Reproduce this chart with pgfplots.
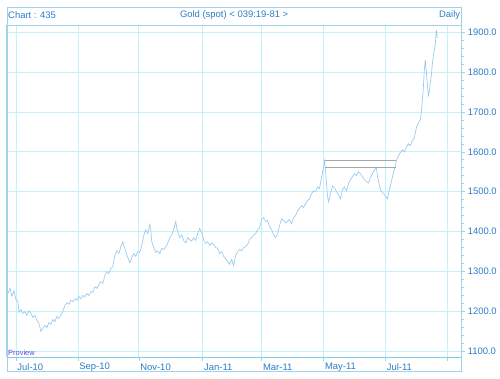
\documentclass[border=0pt]{standalone}
\usepackage{pgfplots}
\pgfplotsset{compat=1.18}
\usepackage{fontspec}
\setmainfont{Liberation Sans}
\definecolor{txtc}{RGB}{45,125,200}
\definecolor{framec}{RGB}{160,210,235}
\definecolor{gridc}{RGB}{195,243,250}
\definecolor{linec}{RGB}{150,200,238}
\definecolor{axc}{RGB}{130,205,230}
\definecolor{provc}{RGB}{90,70,230}
\begin{document}
\begin{tikzpicture}
\path (0,0) rectangle (500bp,379bp);
\begin{axis}[
  at={(7bp,21bp)}, anchor=south west, scale only axis,
  width=455bp, height=333bp,
  xmin=7, xmax=462, ymin=1085, ymax=1917.5,
  xtick={16,78,139,203,262,324,386,448},
  xticklabels={Jul-10,Sep-10,Nov-10,Jan-11,Mar-11,May-11,Jul-11,{}},
  ytick={1100,1200,...,1900},
  minor y tick num=4,
  grid=major,
  major grid style={draw=gridc, line width=0.6pt},
  axis line style={draw=framec, line width=0.6pt},
  ytick pos=right, yticklabel pos=right,
  xtick pos=bottom,
  tick align=outside,
  major tick length=4bp, minor tick length=2.5bp,
  tick style={draw=framec, line width=0.5pt},
  ticklabel style={font=\fontsize{9.5}{11}\selectfont, text=txtc},
  xticklabel style={anchor=west, yshift=-6bp, xshift=-2bp},
  yticklabel style={anchor=west, xshift=-1bp},
  /pgf/number format/.cd, fixed, fixed zerofill, precision=1, 1000 sep={}, assume math mode=true,
]
\addplot[linec, line width=0.65pt] coordinates {
(8,1245) (10,1258) (12,1238) (14,1252) (16,1230) (18,1225) (19,1198) (21,1205)
(23,1195) (25,1200) (27,1190) (29,1202) (31,1195) (33,1185) (35,1190) (37,1178)
(39,1170) (41,1150) (43,1158) (45,1165) (47,1160) (49,1172) (51,1168) (53,1180)
(55,1175) (57,1188) (59,1182) (61,1192) (63,1200) (65,1215) (67,1222) (69,1218)
(71,1228) (73,1225) (75,1232) (77,1228) (79,1238) (81,1232) (83,1240) (85,1237)
(87,1245) (89,1240) (91,1250) (93,1248) (95,1262) (97,1258) (99,1268) (101,1275)
(103,1270) (105,1290) (107,1300) (109,1295) (111,1308) (113,1312) (115,1340) (117,1352)
(119,1345) (121,1362) (123,1375) (124,1365) (126,1350) (128,1335) (130,1322) (132,1335)
(134,1345) (136,1338) (138,1350) (140,1348) (142,1365) (144,1390) (146,1405) (148,1395)
(150,1418) (151,1405) (152,1375) (154,1360) (156,1348) (158,1352) (160,1345) (162,1358)
(164,1355) (166,1362) (168,1372) (170,1385) (172,1392) (174,1405) (176,1425) (177,1410)
(178,1400) (180,1385) (182,1392) (184,1378) (186,1372) (188,1385) (190,1380) (192,1376)
(194,1385) (196,1378) (198,1395) (200,1408) (202,1398) (204,1380) (206,1370) (208,1375)
(210,1365) (212,1372) (214,1368) (216,1360) (218,1358) (220,1345) (222,1350) (224,1338)
(226,1332) (228,1325) (230,1318) (232,1330) (234,1315) (236,1340) (238,1350) (240,1355)
(242,1352) (244,1360) (246,1362) (248,1368) (250,1380) (252,1385) (254,1392) (256,1395)
(258,1405) (260,1410) (262,1430) (264,1435) (266,1425) (268,1428) (270,1412) (272,1405)
(274,1392) (276,1385) (278,1395) (280,1415) (282,1432) (284,1428) (286,1422) (288,1425)
(290,1430) (292,1420) (294,1435) (296,1440) (298,1452) (300,1458) (302,1465) (304,1460)
(306,1470) (308,1478) (310,1482) (312,1495) (314,1502) (316,1500) (318,1512) (320,1508)
(322,1535) (324,1560) (325,1578) (326,1555) (327,1520) (328,1490) (329,1475) (331,1495)
(333,1515) (335,1510) (337,1500) (339,1492) (341,1482) (343,1505) (345,1512) (347,1502)
(349,1520) (351,1530) (353,1538) (355,1545) (357,1540) (359,1550) (361,1545) (363,1538)
(365,1530) (367,1525) (369,1522) (371,1535) (373,1545) (375,1555) (377,1560) (378,1540)
(380,1515) (382,1500) (384,1495) (386,1490) (388,1482) (390,1505) (392,1525) (394,1548)
(396,1565) (397,1578) (399,1590) (401,1598) (403,1605) (405,1600) (407,1612) (409,1620)
(411,1615) (413,1628) (415,1635) (417,1660) (419,1672) (421,1680) (422,1700) (423,1730)
(424,1760) (425,1805) (426,1830) (427,1800) (428,1770) (429,1740) (430,1750) (431,1775)
(432,1790) (433,1820) (434,1840) (435,1855) (436,1870) (437,1905) (438,1885)
};
\addplot[black!35, line width=0.8pt] coordinates {(326,1578) (397,1578)};
\addplot[black!35, line width=0.8pt] coordinates {(326,1562) (397,1562)};
\end{axis}
% header and footer frames
\draw[framec, line width=0.6pt] (7bp,354bp) rectangle (462bp,372bp);
\draw[framec, line width=0.6pt] (7bp,7bp) rectangle (462bp,21bp);
\draw[axc, line width=1pt] (7bp,21bp) -- (462bp,21bp);
\draw[framec, line width=1.2pt] (7bp,21bp) -- (7bp,354bp);
\node[anchor=west, text=txtc, font=\fontsize{9.5}{11}\selectfont, inner sep=1bp] at (7bp,364bp) {Chart : 435};
\node[anchor=center, text=txtc, font=\fontsize{9.5}{11}\selectfont, inner sep=1bp] at (234.5bp,364bp) {Gold (spot) < 039:19-81 >};
\node[anchor=east, text=txtc, font=\fontsize{9.5}{11}\selectfont, inner sep=1bp] at (462bp,364bp) {Daily};
\node[anchor=south west, text=provc, font=\fontsize{7.5}{9}\selectfont, inner sep=1bp] at (7bp,22bp) {Proview};
\end{tikzpicture}
\end{document}
